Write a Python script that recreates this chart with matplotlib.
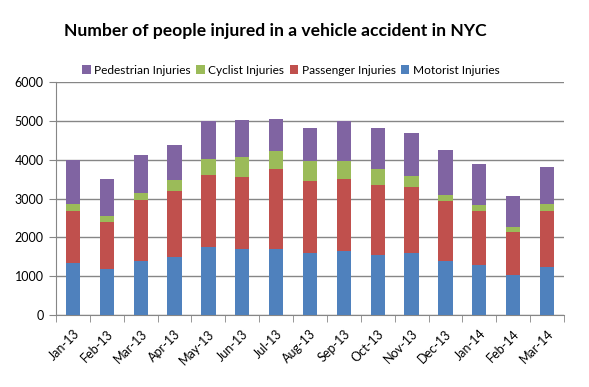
import matplotlib
matplotlib.use("Agg")
import matplotlib.pyplot as plt
import numpy as np

months = ["Jan-13", "Feb-13", "Mar-13", "Apr-13", "May-13", "Jun-13", "Jul-13", "Aug-13",
          "Sep-13", "Oct-13", "Nov-13", "Dec-13", "Jan-14", "Feb-14", "Mar-14"]
motorist = [1330, 1176, 1399, 1485, 1742, 1691, 1691, 1588, 1657, 1554, 1605, 1382, 1296, 1021, 1245]
passenger = [1357, 1227, 1571, 1717, 1872, 1871, 2060, 1871, 1837, 1785, 1700, 1545, 1391, 1125, 1442]
cyclist = [180, 138, 180, 283, 395, 515, 464, 515, 480, 412, 283, 172, 137, 112, 180]
pedestrian = [1116, 970, 979, 901, 978, 953, 841, 850, 1022, 1073, 1090, 1159, 1073, 815, 953]
yticks = [0, 1000, 2000, 3000, 4000, 5000, 6000]

plt.rcParams['font.family'] = ['Lato', 'DejaVu Sans']

W, H = 589, 387
fig = plt.figure(figsize=(W / 100, H / 100), dpi=100)
ax = fig.add_axes([56 / W, 1 - 315 / H, (564 - 56) / W, (315 - 82) / H])

x = np.arange(len(months))
bw = 0.42
c_mot, c_pas, c_cyc, c_ped = "#4F81BD", "#C0504D", "#9BBB59", "#8064A2"
b1 = np.array(motorist)
b2 = b1 + np.array(passenger)
b3 = b2 + np.array(cyclist)
ax.bar(x, motorist, bw, color=c_mot, zorder=3, label="Motorist Injuries")
ax.bar(x, passenger, bw, bottom=b1, color=c_pas, zorder=3, label="Passenger Injuries")
ax.bar(x, cyclist, bw, bottom=b2, color=c_cyc, zorder=3, label="Cyclist Injuries")
ax.bar(x, pedestrian, bw, bottom=b3, color=c_ped, zorder=3, label="Pedestrian Injuries")

ax.set_xlim(-0.5, len(months) - 0.5)
ax.set_ylim(0, 6000)
ax.set_yticks(yticks)
ax.set_yticklabels([str(v) for v in yticks], fontsize=9)
ax.yaxis.grid(True, color="#868686", linewidth=1, zorder=0)
ax.set_xticks(x)
ax.set_xticklabels(months, rotation=45, ha="right", rotation_mode="anchor", fontsize=9)
ax.set_xticks(np.arange(-0.5, len(months), 1), minor=True)
ax.tick_params(axis="x", which="major", length=0, pad=9)
ax.tick_params(axis="x", which="minor", length=5, color="#868686", direction="out")
ax.tick_params(axis="y", length=5, color="#868686", direction="out", pad=4)
for s in ["top", "right"]:
    ax.spines[s].set_visible(False)
ax.spines["left"].set_color("#868686")
ax.spines["bottom"].set_color("#868686")

handles, labels = ax.get_legend_handles_labels()
fig.legend(handles[::-1], labels[::-1], loc="center", bbox_to_anchor=(291 / W, 1 - 70 / H),
           ncol=4, frameon=False, fontsize=8.6, handlelength=0.7, handleheight=0.7,
           handletextpad=0.3, columnspacing=0.45)

fig.text(275 / W, 1 - 31 / H, "Number of people injured in a vehicle accident in NYC",
         ha="center", va="center", fontsize=12.6, fontweight="bold")

fig.savefig("out.png", dpi=100)
